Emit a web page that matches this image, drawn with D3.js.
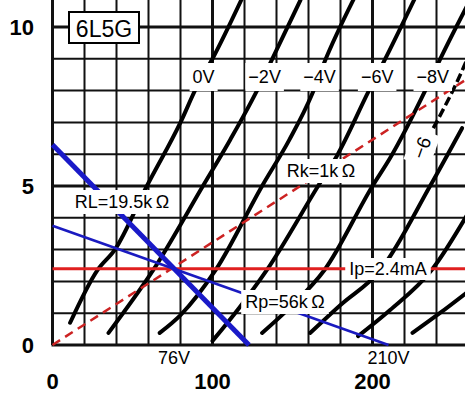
<!DOCTYPE html>
<html>
<head>
<meta charset="utf-8">
<script src="https://cdn.jsdelivr.net/npm/d3@7/dist/d3.min.js"></script>
<style>
  body { margin: 0; background: #fff; }
  text { font-family: "Liberation Sans", Arial, sans-serif; }
</style>
</head>
<body>
<div id="chart"></div>
<script>
// plate characteristics, [plate volts, plate mA]
var gridVolts = ["0V", "\u22122V", "\u22124V", "\u22126V", "\u22128V", "\u221210V", "\u221212V", "\u221214V"];
var curve0V  = [[11,0.7],[28,2.35],[39,3.0],[59,5.0],[80,7.0],[90,8.1],[100,9.0],[118,10.85]];
var curve2V  = [[35,0.38],[63,2.36],[94,5.0],[111,6.45],[127,7.92],[137,8.96],[155,10.85]];
var curve4V  = [[67,0.38],[80,0.94],[102,2.36],[131,5.0],[148,6.45],[162,7.86],[170,8.9],[188,10.85]];
var curve6V  = [[100,0.13],[117,1.19],[134,2.36],[166,5.0],[178,5.97],[198,8.02],[207,8.9],[226,10.85]];
var curve8V  = [[131,0.38],[148,1.16],[170,2.36],[200,5.0],[211,5.88],[234,8.11],[242,8.96],[261,10.85]];
var curve10V = [[161,0.38],[180,1.26],[205,2.36],[236,5.0],[256,6.82]];
var curve12V = [[191,0.28],[211,1.1],[237,2.36],[261,4.25]];
var curve14V = [[225,0.38],[242,1.0],[261,1.73]];
var curves = [curve0V, curve2V, curve4V, curve6V, curve8V, curve10V, curve12V, curve14V];
var curve9V  = [[238,6.82],[257,8.74],[262,9.34]];   // dashed, hand drawn

// load lines and bias line
var loadRL = [[0,6.3],[122.8,0]];     // RL=19.5k
var loadRp = [[0,3.75],[210,0]];      // Rp=56k
var biasRk = [[0,0],[258,8.33]];      // Rk=1k
var ipLevel = 2.4;

var xTicks = [0, 100, 200];
var yTicks = [0, 5, 10];

var svg = d3.select("#chart")
    .append("svg")
    .attr("width", 465)
    .attr("height", 396);

var x = d3.scaleLinear().domain([0, 260]).range([52.5, 468.5]);
var y = d3.scaleLinear().domain([0, 11]).range([345, -4.8]);

// grid
d3.range(0, 261, 20).forEach(function(v) {
    svg.append("line")
        .attr("x1", x(v)).attr("x2", x(v))
        .attr("y1", 0).attr("y2", y(0))
        .attr("stroke", "#111")
        .attr("stroke-width", v % 100 == 0 ? 3 : 2);
});
d3.range(0, 11).forEach(function(i) {
    svg.append("line")
        .attr("x1", x(0) - 1).attr("x2", 465)
        .attr("y1", y(i)).attr("y2", y(i))
        .attr("stroke", "#111")
        .attr("stroke-width", i % 5 == 0 ? 3 : 2);
});

var line = d3.line()
    .x(d => x(d[0]))
    .y(d => y(d[1]))
    .curve(d3.curveMonotoneX);
var straight = d3.line().x(d => x(d[0])).y(d => y(d[1]));

// plate curves
svg.selectAll("path.plate")
    .data(curves)
    .enter()
    .append("path")
    .attr("class", "plate")
    .attr("d", line)
    .attr("fill", "none")
    .attr("stroke", "#000")
    .attr("stroke-width", 4)
    .attr("stroke-linecap", "round");

svg.append("path")
    .attr("d", line(curve9V))
    .attr("fill", "none")
    .attr("stroke", "#000")
    .attr("stroke-width", 3.5)
    .attr("stroke-dasharray", "9,4");

// bias line
svg.append("path")
    .attr("d", straight(biasRk))
    .attr("fill", "none")
    .attr("stroke", "#cc2222")
    .attr("stroke-width", 2.5)
    .attr("stroke-dasharray", "9,6");

// Ip line
svg.append("line")
    .attr("x1", x(0)).attr("x2", 465)
    .attr("y1", y(ipLevel)).attr("y2", y(ipLevel))
    .attr("stroke", "#e02020")
    .attr("stroke-width", 3);

// load lines
svg.append("path")
    .attr("d", straight(loadRp))
    .attr("stroke", "#1a1ac0")
    .attr("stroke-width", 2.5);
svg.append("path")
    .attr("d", straight(loadRL))
    .attr("stroke", "#1a1ac8")
    .attr("stroke-width", 5);

// labels with white boxes behind
function label(txt, cx, by, size, padX, padY, rot) {
    var g = svg.append("g")
        .attr("transform", "translate(" + cx + "," + by + ")" + (rot ? " rotate(" + rot + ")" : ""));
    var t = g.append("text")
        .attr("text-anchor", "middle")
        .style("font-size", size + "px")
        .text(txt);
    var b = t.node().getBBox();
    g.insert("rect", "text")
        .attr("x", b.x - padX).attr("y", b.y - padY)
        .attr("width", b.width + 2 * padX).attr("height", b.height + 2 * padY)
        .attr("fill", "#fff");
    return g;
}

[0, 1, 2, 3, 4].forEach(function(k) {
    var c = curves[k];
    // label sits where the curve crosses 8.5 mA
    var lx = d3.scaleLinear().domain(c.map(d => d[1])).range(c.map(d => d[0]))(8.5);
    label(gridVolts[k], x(lx), 83, 18, 3, 4);
});

label("Rk=1k\u2009Ω", 321, 177, 18, 5, 2);
label("RL=19.5k\u2009Ω", 122, 208, 18, 4, 2);
label("Ip=2.4mA", 388, 275, 18, 4, 1);
label("Rp=56k\u2009Ω", 285, 308, 18, 4, 2);
label("\u22126", 428, 150, 19, 6, 3, -70);

svg.append("text")
    .attr("x", x(76)).attr("y", 364)
    .attr("text-anchor", "middle")
    .style("font-size", "18px")
    .text("76V");
svg.append("text")
    .attr("x", x(210)).attr("y", 364)
    .attr("text-anchor", "middle")
    .style("font-size", "18px")
    .text("210V");

// tube name box
svg.append("rect")
    .attr("x", 69).attr("y", 12)
    .attr("width", 70).attr("height", 31)
    .attr("fill", "#fff")
    .attr("stroke", "#000")
    .attr("stroke-width", 2);
svg.append("text")
    .attr("x", 104).attr("y", 37)
    .attr("text-anchor", "middle")
    .style("font-size", "23px")
    .style("font-weight", "500")
    .text("6L5G");

// tick labels
svg.selectAll("text.ytick")
    .data(yTicks)
    .enter()
    .append("text")
    .attr("class", "ytick")
    .attr("x", 34)
    .attr("y", d => y(d) + 8)
    .attr("text-anchor", "end")
    .style("font-size", "22px")
    .style("font-weight", "bold")
    .text(d => d);
svg.selectAll("text.xtick")
    .data(xTicks)
    .enter()
    .append("text")
    .attr("class", "xtick")
    .attr("x", d => x(d))
    .attr("y", 389)
    .attr("text-anchor", "middle")
    .style("font-size", "22px")
    .style("font-weight", "bold")
    .text(d => d);
</script>
</body>
</html>
